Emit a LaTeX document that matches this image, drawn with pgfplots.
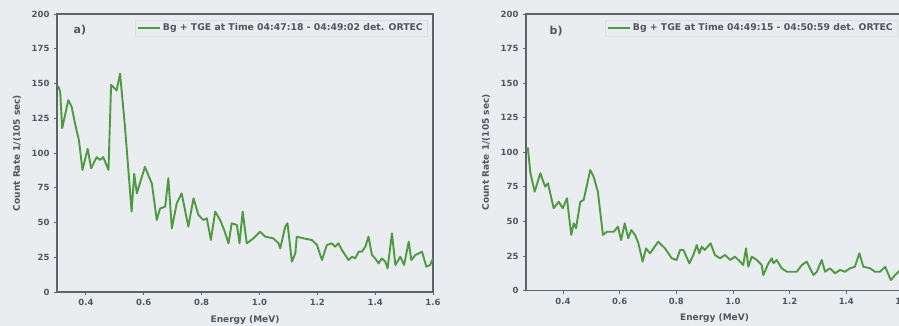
\documentclass[border=0pt]{standalone}
\usepackage{fontspec}
\setmainfont{DejaVu Sans}
\usepackage{pgfplots}
\pgfplotsset{compat=1.18}
\definecolor{bg}{HTML}{E9EDF0}
\definecolor{axisgray}{HTML}{5E646B}
\definecolor{textgray}{HTML}{50565D}
\definecolor{lgreen}{HTML}{4E9A40}
\definecolor{legendgray}{HTML}{DADEE2}
\pgfplotsset{
  myaxis/.style={
    scale only axis,
    anchor=south west,
    ymin=0, ymax=200,
    xmax=1.6,
    xtick={0.4,0.6,0.8,1.0,1.2,1.4,1.6},
    ytick={0,25,50,75,100,125,150,175,200},
    xticklabel style={/pgf/number format/.cd,fixed,fixed zerofill,precision=1},
    /pgf/number format/assume math mode=true,
    tick align=outside,
    xtick pos=bottom, ytick pos=left,
    major tick length=3pt,
    axis line style={draw=axisgray, line width=1.1pt},
    tick style={draw=axisgray, line width=0.9pt},
    ticklabel style={font=\bfseries\fontsize{8.5}{9}\selectfont, text=textgray},
    xticklabel shift=1pt,
    yticklabel shift=1pt,
    xlabel={Energy (MeV)},
    ylabel={Count Rate 1/(105 sec)},
    every axis x label/.style={at={(axis description cs:0.5,-0.1)}, anchor=center,
      font=\bfseries\fontsize{9}{10}\selectfont, text=textgray},
    every axis y label/.style={at={(axis description cs:-0.106,0.5)}, rotate=90, anchor=center,
      font=\bfseries\fontsize{9}{10}\selectfont, text=textgray},
    legend style={at={(axis description cs:0.984,0.978)}, anchor=north east,
      draw=legendgray, fill=bg, font=\bfseries\fontsize{9.3}{10.5}\selectfont, text=textgray,
      inner xsep=2pt, inner ysep=1.5pt, row sep=0pt},
    legend image code/.code={\draw[##1, line width=1.8pt] (0pt,0pt) -- (22pt,0pt);},
  },
  spec/.style={draw=lgreen, line width=1.9pt, line join=round, no markers},
}
\begin{document}
\begin{tikzpicture}
\useasboundingbox (0,0) rectangle (899pt,326pt);
\fill[bg] (0,0) rectangle (899pt,326pt);
\begin{axis}[myaxis, at={(57pt,34pt)}, width=376pt, height=278pt, xmin=0.3]
\addplot[spec] coordinates {
(0.300,147.7) (0.305,147.7) (0.311,144) (0.318,117.8) (0.339,138) (0.351,133) (0.362,121.5)
(0.376,109) (0.388,87.8) (0.406,103) (0.418,89) (0.437,97) (0.449,95) (0.460,97)
(0.478,87.8) (0.487,149) (0.506,145) (0.518,157) (0.535,119) (0.558,57.8) (0.567,85)
(0.576,71) (0.604,90) (0.628,78) (0.645,51.8) (0.656,60) (0.674,61.4) (0.685,81.8)
(0.697,45.8) (0.714,63.8) (0.731,71) (0.754,47) (0.772,67.4) (0.789,55.4) (0.806,51.8)
(0.818,53) (0.832,37.4) (0.847,57.8) (0.864,51.8) (0.878,44.6) (0.893,35) (0.904,49.4)
(0.922,48.2) (0.931,35) (0.942,57.8) (0.956,35) (0.979,38.6) (1.002,43.4) (1.020,39.8)
(1.048,38.6) (1.066,35) (1.072,31.4) (1.089,47) (1.097,49.4) (1.112,21.8) (1.124,27.8)
(1.129,39.8) (1.152,38.6) (1.181,37.4) (1.199,33.8) (1.216,23) (1.233,33.8) (1.250,35)
(1.262,32.6) (1.273,35) (1.285,30.2) (1.308,23) (1.320,25.4) (1.331,24.2) (1.343,29)
(1.354,29) (1.366,32.6) (1.377,39.8) (1.389,26.6) (1.400,24.2) (1.412,20.6) (1.423,24.2)
(1.435,21.8) (1.443,17) (1.458,42.2) (1.470,19.4) (1.487,25.4) (1.500,19.4) (1.516,36.2)
(1.525,23) (1.539,26.6) (1.562,29) (1.577,18.2) (1.590,19.4) (1.600,24.2)
};
\addlegendentry{Bg + TGE at Time 04:47:18 - 04:49:02 det. ORTEC}
\node[font=\bfseries\fontsize{11}{12}\selectfont, text=textgray] at (rel axis cs:0.061,0.942) {a)};
\end{axis}
\begin{axis}[myaxis, at={(526pt,35.3pt)}, width=377pt, height=276.7pt, xmin=0.2694]
\addplot[spec] coordinates {
(0.270,101.7) (0.276,103) (0.285,84.9) (0.300,71.6) (0.320,84.9) (0.337,75.2) (0.347,77.6)
(0.367,59.6) (0.385,64.3) (0.399,59.6) (0.414,66.8) (0.429,40.3) (0.438,48.7) (0.446,45.1)
(0.461,64.3) (0.473,65.6) (0.496,87.2) (0.508,82.4) (0.523,71.6) (0.541,40.3) (0.555,42.6)
(0.579,42.6) (0.594,46.3) (0.605,36.6) (0.618,48.7) (0.630,37.9) (0.641,43.9) (0.655,40)
(0.666,34.3) (0.681,21) (0.693,30.6) (0.707,27) (0.736,35.4) (0.760,30.6) (0.784,23.4)
(0.801,22.2) (0.813,29.4) (0.825,29.4) (0.846,19.8) (0.860,25.8) (0.872,33) (0.881,27)
(0.890,31.8) (0.900,29.4) (0.921,34.3) (0.936,25.8) (0.954,23.4) (0.972,25.8) (0.990,22.2)
(1.007,24.6) (1.025,21) (1.036,18.6) (1.046,30.6) (1.054,17.3) (1.066,24.6) (1.084,22.2)
(1.101,18.6) (1.107,11.3) (1.125,19.8) (1.137,23.4) (1.143,19.8) (1.154,22.2) (1.172,16.2)
(1.190,13.7) (1.225,13.7) (1.243,18.6) (1.260,21) (1.284,11.3) (1.296,13.7) (1.313,22.2)
(1.325,13.7) (1.342,16.2) (1.360,12.6) (1.378,15) (1.395,13.7) (1.413,16.2) (1.430,17.3)
(1.446,27) (1.460,17.3) (1.484,16.2) (1.501,13.7) (1.519,13.7) (1.537,17.3) (1.557,7.7)
(1.572,11.3) (1.584,13.7) (1.600,16)
};
\addlegendentry{Bg + TGE at Time 04:49:15 - 04:50:59 det. ORTEC}
\node[font=\bfseries\fontsize{11}{12}\selectfont, text=textgray] at (rel axis cs:0.08,0.94) {b)};
\end{axis}
\end{tikzpicture}
\end{document}
